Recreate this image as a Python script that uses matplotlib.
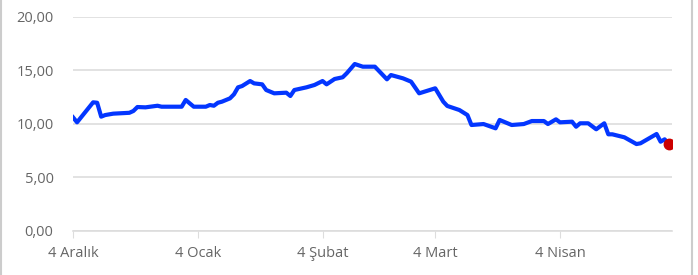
import pandas as pd
import matplotlib.pyplot as plt
from matplotlib.lines import Line2D

plt.rcParams['font.family'] = ['Open Sans', 'DejaVu Sans']

dates = ['2022-12-04', '2022-12-05', '2022-12-09', '2022-12-10', '2022-12-11', '2022-12-12',
         '2022-12-14', '2022-12-18', '2022-12-19', '2022-12-20', '2022-12-22', '2022-12-25',
         '2022-12-26', '2022-12-31', '2023-01-01', '2023-01-03', '2023-01-06', '2023-01-07',
         '2023-01-08', '2023-01-09', '2023-01-10', '2023-01-12', '2023-01-13', '2023-01-14',
         '2023-01-15', '2023-01-17', '2023-01-18', '2023-01-20', '2023-01-21', '2023-01-23',
         '2023-01-26', '2023-01-27', '2023-01-28', '2023-01-31', '2023-02-02', '2023-02-04',
         '2023-02-05', '2023-02-07', '2023-02-09', '2023-02-10', '2023-02-12', '2023-02-14',
         '2023-02-17', '2023-02-20', '2023-02-21', '2023-02-24', '2023-02-26', '2023-02-28',
         '2023-03-04', '2023-03-06', '2023-03-07', '2023-03-10', '2023-03-12', '2023-03-13',
         '2023-03-16', '2023-03-19', '2023-03-20', '2023-03-23', '2023-03-26', '2023-03-28',
         '2023-03-31', '2023-04-01', '2023-04-03', '2023-04-04', '2023-04-07', '2023-04-08',
         '2023-04-09', '2023-04-11', '2023-04-13', '2023-04-15', '2023-04-16', '2023-04-17',
         '2023-04-20', '2023-04-23', '2023-04-24', '2023-04-28', '2023-04-29', '2023-04-30',
         '2023-05-01']
values = [10.58, 10.11, 11.98, 11.94, 10.64, 10.79,
          10.92, 11.00, 11.17, 11.54, 11.51, 11.66,
          11.57, 11.57, 12.20, 11.57, 11.57, 11.73,
          11.66, 11.94, 12.04, 12.35, 12.73, 13.38,
          13.50, 13.97, 13.75, 13.66, 13.13, 12.82,
          12.88, 12.57, 13.13, 13.38, 13.60, 13.97,
          13.66, 14.16, 14.32, 14.69, 15.56, 15.31,
          15.31, 14.13, 14.53, 14.22, 13.91, 12.82,
          13.29, 12.04, 11.64, 11.26, 10.79, 9.86,
          9.95, 9.55, 10.33, 9.86, 9.95, 10.23,
          10.23, 9.95, 10.39, 10.11, 10.17, 9.70,
          10.02, 10.02, 9.46, 10.02, 8.99, 8.99,
          8.71, 8.08, 8.15, 9.02, 8.30, 8.52,
          8.08]

tick_dates = ['2022-12-04', '2023-01-04', '2023-02-04', '2023-03-04', '2023-04-04']
tick_labels = ['4 Aralık', '4 Ocak', '4 Şubat', '4 Mart', '4 Nisan']
y_ticks = [0, 5, 10, 15, 20]
y_labels = ['0,00', '5,00', '10,00', '15,00', '20,00']

x = pd.to_datetime(dates)

fig = plt.figure(figsize=(6.98, 2.75), dpi=100)
ax = fig.add_axes([0.1046, 0.1618, 0.8577, 0.7782])

ax.plot(x, values, color='#0336ff', lw=3.0, solid_joinstyle='round', zorder=3)
ax.plot(x[-1:], values[-1:], 'o', color='#cc0000', ms=7.5, zorder=4)

ax.set_ylim(0, 20)
ax.set_xlim(pd.Timestamp('2022-12-04'), pd.Timestamp('2023-05-01') + pd.Timedelta(hours=18))
ax.set_yticks(y_ticks)
ax.set_yticklabels(y_labels)
ax.set_xticks(pd.to_datetime(tick_dates))
ax.set_xticklabels(tick_labels)

ax.grid(axis='y', color='#dddddd', lw=1.2)
ax.set_axisbelow(True)
for s in ['top', 'right', 'left']:
    ax.spines[s].set_visible(False)
ax.spines['bottom'].set_color('#dddddd')
ax.spines['bottom'].set_linewidth(1.2)
ax.tick_params(axis='y', length=0, pad=14, labelsize=10.5, labelcolor='#666666')
ax.tick_params(axis='x', length=5, color='#dddddd', pad=6, labelsize=10.5, labelcolor='#666666')

# light frame lines on the sides
fig.add_artist(Line2D([0.001, 0.001], [0, 1], color='#cccccc', lw=1.5))
fig.add_artist(Line2D([0.991, 0.991], [0, 1], color='#cccccc', lw=1.5))

fig.savefig('out.png', dpi=100)
